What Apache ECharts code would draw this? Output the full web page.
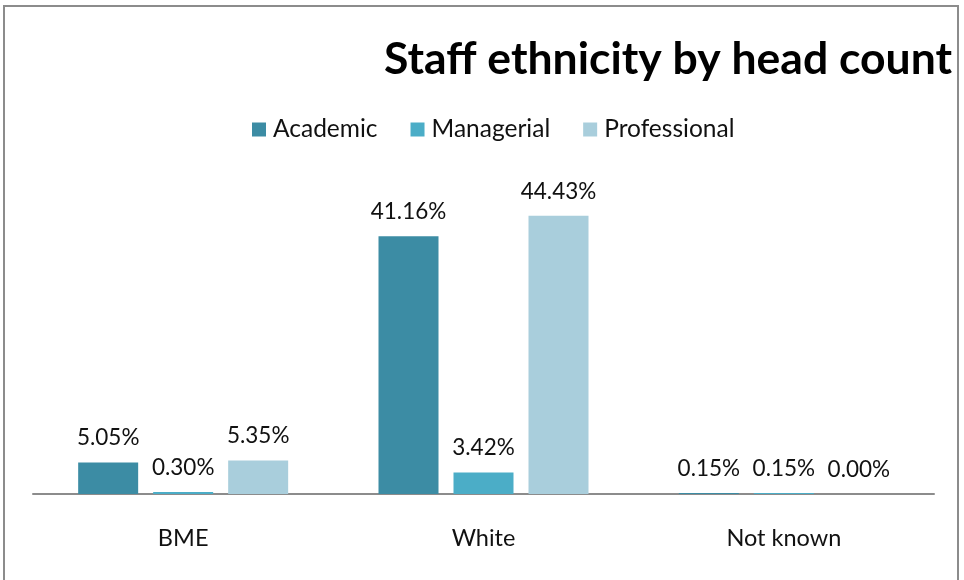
<!DOCTYPE html>
<html>
<head>
<meta charset="utf-8">
<script src="https://cdn.jsdelivr.net/npm/echarts@6/dist/echarts.min.js"></script>
<style>
  html, body { margin: 0; padding: 0; background: #fff; }
  #frame { position: absolute; left: 3px; top: 5px; width: 956px; height: 590px; border: 2px solid #8c8c8c; border-bottom: none; box-sizing: border-box; }
  #chart { position: absolute; left: 0; top: 0; width: 964px; height: 580px; }
</style>
</head>
<body>
<div id="frame"></div>
<div id="chart"></div>
<script>
  // Staff groups by ethnicity, share of head count (%)
  const categories = ['BME', 'White', 'Not known'];
  const seriesNames = ['Academic', 'Managerial', 'Professional'];
  const academic = [5.05, 41.16, 0.15];
  const managerial = [0.30, 3.42, 0.15];
  const professional = [5.35, 44.43, 0.00];
  const colors = ['#3C8CA4', '#4BADC7', '#A9CEDC'];

  const font = 'Lato, "Open Sans", sans-serif';
  const chart = echarts.init(document.getElementById('chart'), null, { renderer: 'canvas' });

  const makeSeries = (name, data, color) => ({
    name: name,
    type: 'bar',
    data: data,
    barWidth: 60,
    barGap: '25%',
    itemStyle: { color: color },
    label: {
      show: true,
      position: 'top',
      distance: 13,
      color: '#111',
      fontFamily: font,
      fontSize: 22.5,
      formatter: p => p.value.toFixed(2) + '%'
    }
  });

  chart.setOption({
    animation: false,
    backgroundColor: 'transparent',
    title: {
      text: 'Staff ethnicity by head count',
      right: 7,
      top: 32,
      textStyle: { fontFamily: font, fontWeight: 'bold', fontSize: 44.5, color: '#000' }
    },
    legend: {
      data: seriesNames,
      left: 247,
      top: 112,
      itemWidth: 14,
      itemHeight: 14,
      itemGap: 33,
      icon: 'rect',
      textStyle: { fontFamily: font, fontSize: 24.5, color: '#111', padding: [0, 0, 0, 2] }
    },
    grid: { left: 33, right: 30, top: 181, bottom: 86, containLabel: false },
    xAxis: {
      type: 'category',
      data: categories,
      axisLine: { lineStyle: { color: '#8c8c8c', width: 2 } },
      axisTick: { show: false },
      axisLabel: { fontFamily: font, fontSize: 23.5, color: '#111', margin: 32 }
    },
    yAxis: {
      type: 'value',
      min: 0,
      max: 50,
      show: false,
      splitLine: { show: false }
    },
    series: [
      makeSeries(seriesNames[0], academic, colors[0]),
      makeSeries(seriesNames[1], managerial, colors[1]),
      makeSeries(seriesNames[2], professional, colors[2])
    ]
  });
</script>
</body>
</html>
